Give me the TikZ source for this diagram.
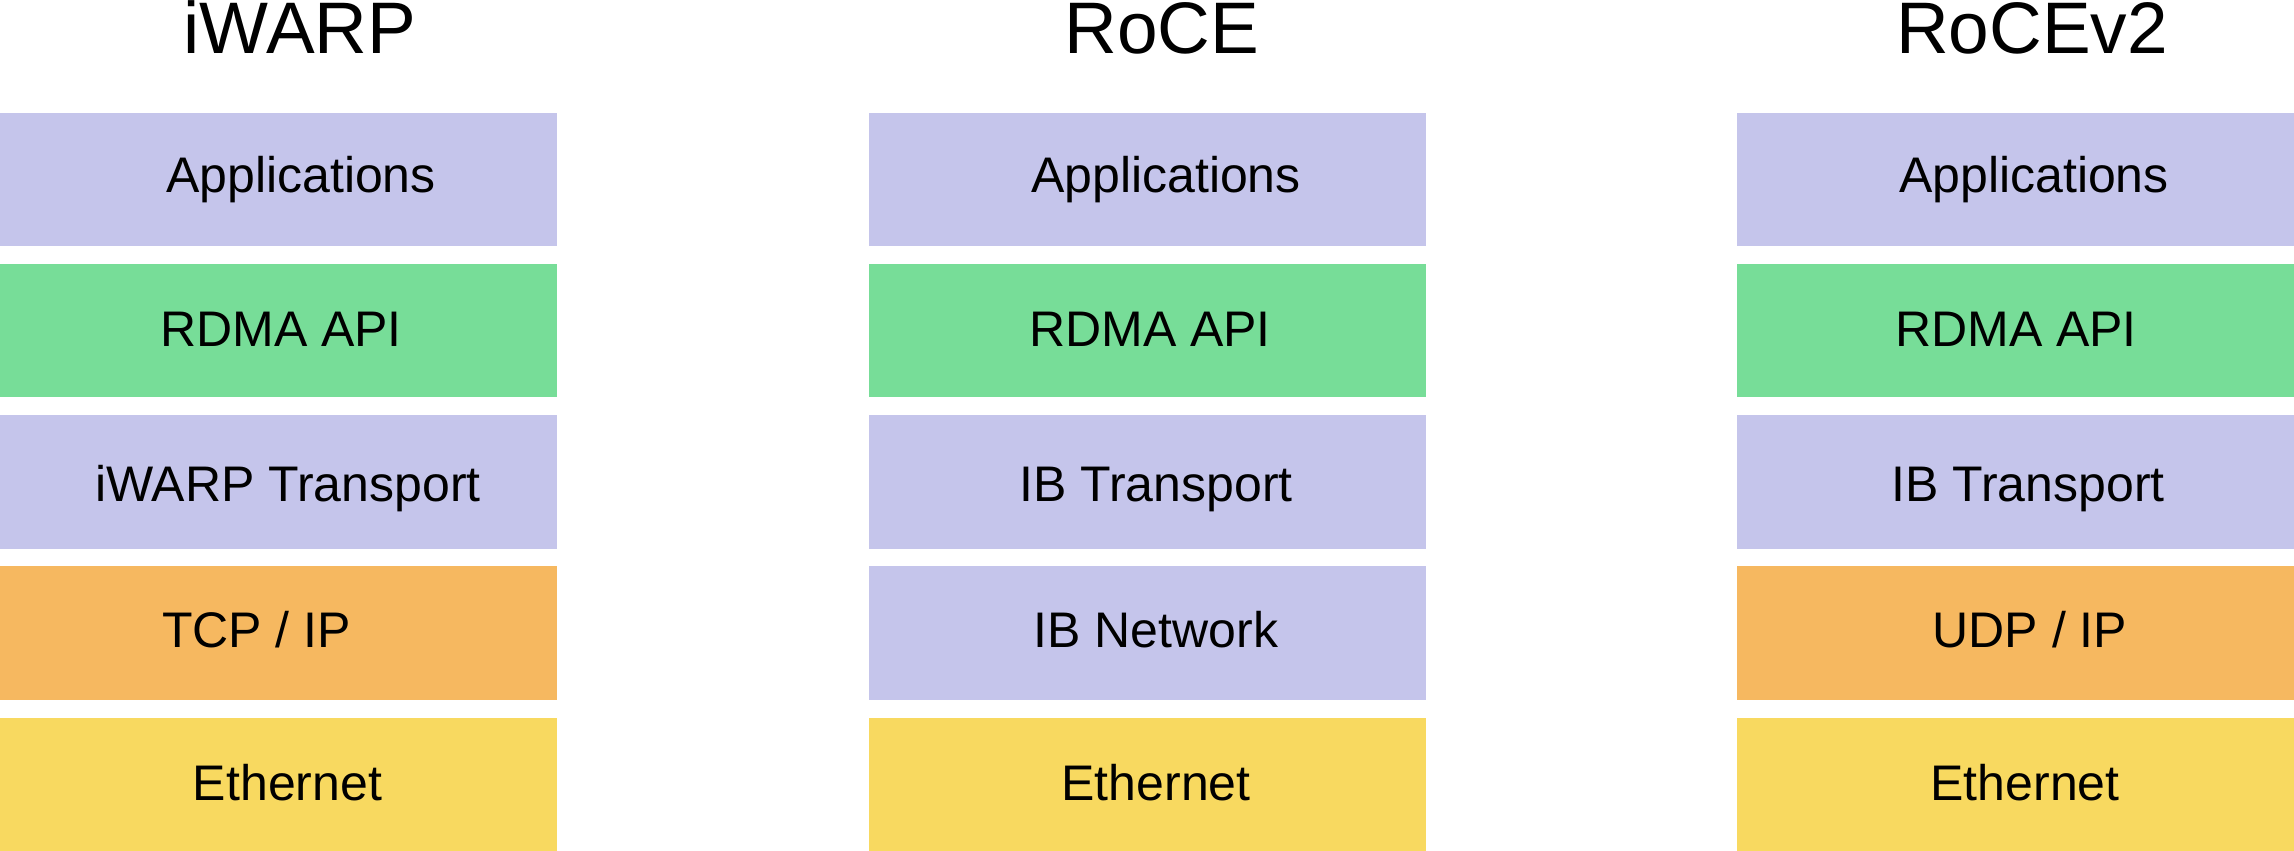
\documentclass[tikz,border=0pt]{standalone}
\usepackage{fontspec}
\setmainfont{Liberation Sans}
\definecolor{lpurple}{RGB}{197,197,235}
\definecolor{lgreen}{RGB}{119,221,152}
\definecolor{lorange}{RGB}{246,184,96}
\definecolor{lyellow}{RGB}{248,217,96}
\begin{document}
\begin{tikzpicture}[x=1pt,y=-1pt,
  layer/.style={rectangle,draw=none,inner sep=0pt,minimum width=557pt,minimum height=133.3pt,anchor=north west},
  title/.style={anchor=base,inner sep=0pt,font=\fontsize{73}{88}\selectfont},
  lbl/.style={anchor=base,inner sep=0pt,font=\fontsize{50}{60}\selectfont}]
\useasboundingbox (0,0) rectangle (2294,851);
% column 1: iWARP
\node[title] (t1) at (300,54) {iWARP};
\node[layer,fill=lpurple] (a1) at (0,112.6) {};
\node[layer,fill=lgreen]  (b1) at (0,263.8) {};
\node[layer,fill=lpurple] (c1) at (0,415) {};
\node[layer,fill=lorange] (d1) at (0,566.2) {};
\node[layer,fill=lyellow] (e1) at (0,717.4) {};
\node[lbl] (la1) at (301,192) {Applications};
\node[lbl] (lb1) at (281,346) {RDMA API};
\node[lbl] (lc1) at (288,501) {iWARP Transport};
\node[lbl] (ld1) at (256.5,647) {TCP / IP};
\node[lbl] (le1) at (287.5,800) {Ethernet};
% column 2: RoCE
\node[title] (t2) at (1162,54) {RoCE};
\node[layer,fill=lpurple] (a2) at (868.5,112.6) {};
\node[layer,fill=lgreen]  (b2) at (868.5,263.8) {};
\node[layer,fill=lpurple] (c2) at (868.5,415) {};
\node[layer,fill=lpurple] (d2) at (868.5,566.2) {};
\node[layer,fill=lyellow] (e2) at (868.5,717.4) {};
\node[lbl] (la2) at (1166,192) {Applications};
\node[lbl] (lb2) at (1150,346) {RDMA API};
\node[lbl] (lc2) at (1156,501) {IB Transport};
\node[lbl] (ld2) at (1156,647) {IB Network};
\node[lbl] (le2) at (1156,800) {Ethernet};
% column 3: RoCEv2
\node[title] (t3) at (2032,54) {RoCEv2};
\node[layer,fill=lpurple] (a3) at (1737,112.6) {};
\node[layer,fill=lgreen]  (b3) at (1737,263.8) {};
\node[layer,fill=lpurple] (c3) at (1737,415) {};
\node[layer,fill=lorange] (d3) at (1737,566.2) {};
\node[layer,fill=lyellow] (e3) at (1737,717.4) {};
\node[lbl] (la3) at (2034,192) {Applications};
\node[lbl] (lb3) at (2016,346) {RDMA API};
\node[lbl] (lc3) at (2028,501) {IB Transport};
\node[lbl] (ld3) at (2030,647) {UDP / IP};
\node[lbl] (le3) at (2025,800) {Ethernet};
\end{tikzpicture}
\end{document}
